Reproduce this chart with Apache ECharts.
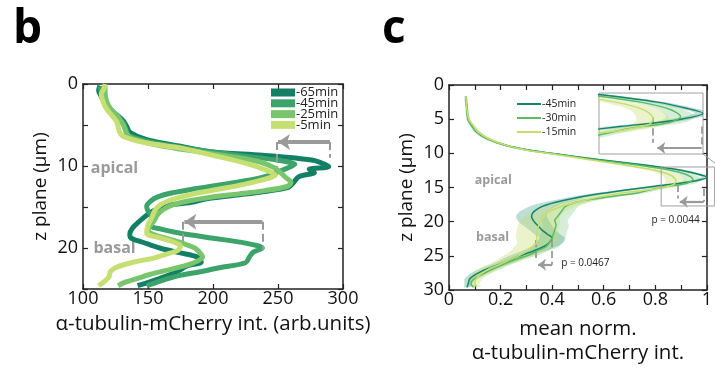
<!DOCTYPE html>
<html><head><meta charset="utf-8">
<script src="https://cdn.jsdelivr.net/npm/echarts@6/dist/echarts.min.js"></script>
<style>html,body{margin:0;padding:0;background:#fff}#c{width:715px;height:372px}</style>
</head><body><div id="c"></div>
<script>
// ---------- Panel b data (x = intensity, z = plane) ----------
const bNames = ['-65min','-45min','-25min','-5min'];
const bZ65 = [0.2,0.8,1.5,2.5,3.5,4.5,5.3,5.9,6.8,7.6,8.3,8.7,9.3,9.8,10.1,10.4,10.8,11.3,12.0,12.6,13.1,13.6,14.0,14.4,14.8,15.4,16.0,16.8,17.6,18.3,18.8,19.3,20.0,20.6,21.1,21.7,22.2,22.9,23.5,24.1,24.6];
const bV65 = [113,112,114,118,124,131,134,136,149,175,200,238,277,286,289,274,278,266,262,258,240,215,195,185,165,155,149,143,138,136,137,146,159,175,188,191,180,172,163,152,142];
const bZ45 = [0.3,1.0,2.0,3.0,4.0,4.8,5.5,6.2,7.0,7.6,8.2,8.8,9.3,9.8,10.2,10.7,11.2,11.8,12.3,12.8,13.3,13.8,14.3,14.9,15.5,16.2,16.8,17.3,17.7,18.2,18.8,19.4,20.0,20.5,21.1,21.8,22.4,22.9,23.4,24.0,24.6];
const bV45 = [113,114,117,120,126,131,133,134,150,170,195,225,250,263,258,250,242,225,205,185,168,157,152,149,150,153,152,152,160,175,200,225,238,231,228,225,205,190,173,160,149];
const bZ25 = [0.2,1.0,2.0,3.0,4.0,5.0,5.8,6.5,7.2,7.8,8.4,9.0,9.6,10.2,10.8,11.4,12.0,12.5,13.0,13.4,13.8,14.3,14.8,15.4,16.0,16.6,17.2,17.8,18.4,19.0,19.5,20.0,20.6,21.1,21.6,22.1,22.7,23.2,23.7,24.2,24.6];
const bV25 = [117,117,118,121,127,131,133,136,150,170,195,220,238,247,252,256,260,257,240,220,198,180,168,161,157,155,152,150,155,168,178,186,190,192,188,180,165,152,142,132,127];
const bZ5 = [0.0,0.6,1.2,2.0,3.0,4.0,4.6,5.2,5.8,6.4,7.2,7.8,8.7,9.7,10.5,11.1,11.7,12.3,12.8,13.3,13.8,14.3,14.8,15.5,16.3,17.2,18.2,18.8,19.3,19.7,20.3,20.8,21.2,21.8,22.4,22.9,23.5,24.0,24.6];
const bV5 = [117,116,114,115,118,123,126,127,128,131,149,175,200,226,241,248,238,222,205,188,175,165,159,155,153,150,149,160,170,175,173,163,155,137,125,121,120,117,112];
const bXTicks = [100,150,200,250,300];

// ---------- Panel c data (x = mean norm. intensity, z = plane) ----------
const cNames = ['-45min','-30min','-15min'];
const cZ45 = [1.7,3.7,5.1,6.0,6.8,7.8,8.8,9.5,10.2,10.9,11.7,12.4,13.0,13.5,14.2,14.8,15.4,16.0,16.6,17.2,17.8,18.5,19.2,20.0,20.6,21.2,21.8,22.4,23.0,23.6,24.4,25.2,25.9,26.6,27.2,27.8,28.4,29.0,29.6];
const cV45 = [0.065,0.07,0.075,0.09,0.106,0.145,0.22,0.31,0.44,0.58,0.76,0.89,0.96,1.0,0.93,0.80,0.68,0.57,0.48,0.41,0.36,0.33,0.32,0.33,0.345,0.36,0.38,0.40,0.39,0.37,0.32,0.26,0.22,0.17,0.13,0.10,0.08,0.075,0.07];
const cE45 = [0.004,0.005,0.006,0.008,0.01,0.012,0.015,0.018,0.02,0.02,0.02,0.02,0.02,0.02,0.025,0.03,0.03,0.035,0.04,0.045,0.05,0.055,0.06,0.06,0.055,0.05,0.05,0.05,0.055,0.05,0.045,0.04,0.035,0.03,0.028,0.025,0.02,0.015,0.01];
const cZ30 = [1.7,3.7,5.1,6.0,6.8,7.8,8.8,9.5,10.2,10.9,11.7,12.4,13.1,13.8,14.4,15.0,15.8,16.3,16.8,17.3,17.8,18.3,18.8,19.3,19.8,20.5,21.2,21.8,22.4,23.0,23.7,24.3,24.9,25.5,26.1,26.8,27.4,28.0,28.6,29.1,29.6];
const cV30 = [0.065,0.07,0.075,0.09,0.108,0.145,0.215,0.30,0.43,0.56,0.73,0.85,0.92,0.946,0.92,0.82,0.73,0.63,0.54,0.48,0.45,0.44,0.43,0.42,0.41,0.415,0.41,0.405,0.40,0.39,0.375,0.34,0.31,0.26,0.22,0.18,0.145,0.115,0.09,0.085,0.095];
const cE30 = [0.004,0.005,0.006,0.008,0.01,0.012,0.015,0.018,0.02,0.02,0.02,0.025,0.03,0.035,0.035,0.035,0.035,0.04,0.045,0.05,0.05,0.05,0.05,0.05,0.05,0.05,0.05,0.05,0.05,0.05,0.05,0.045,0.04,0.035,0.03,0.03,0.025,0.02,0.015,0.01,0.01];
const cZ15 = [1.7,3.7,5.1,6.0,6.8,7.8,8.8,9.5,10.2,10.9,11.7,12.4,13.2,14.0,14.6,15.2,15.8,16.4,17.1,17.7,18.3,18.8,19.3,19.8,20.2,21.0,21.7,22.4,23.1,23.8,24.4,25.0,25.6,26.2,26.8,27.5,28.3,28.9,29.5];
const cV15 = [0.065,0.07,0.078,0.095,0.11,0.15,0.22,0.30,0.42,0.54,0.68,0.79,0.86,0.88,0.87,0.80,0.67,0.58,0.50,0.44,0.40,0.375,0.36,0.355,0.35,0.345,0.34,0.34,0.34,0.32,0.30,0.27,0.235,0.20,0.16,0.13,0.107,0.10,0.107];
const cE15 = [0.004,0.005,0.006,0.008,0.01,0.012,0.015,0.018,0.02,0.02,0.025,0.03,0.035,0.04,0.04,0.04,0.04,0.045,0.05,0.055,0.06,0.065,0.07,0.075,0.08,0.08,0.08,0.08,0.075,0.07,0.065,0.06,0.05,0.045,0.04,0.035,0.025,0.02,0.015];
const cXTicks = [0,0.2,0.4,0.6,0.8,1];

// ---------- styles ----------
const FONT = '"Open Sans", "Noto Sans", sans-serif';
const bColors = ['#137f64','#3ca36b','#79c56e','#c6df72'];
const cColors = ['#148468','#5dbb62','#c6de6c'];
const cBand = ['rgba(20,132,104,0.28)','rgba(93,187,98,0.25)','rgba(198,222,108,0.35)'];
const GRAY = '#9a9a9a';

function zip(v, z) { return v.map((x, i) => [x, z[i]]); }

const chart = echarts.init(document.getElementById('c'), null, {renderer: 'canvas'});

function bandSeries(name, v, z, e, color, xi, yi) {
  return {
    type: 'custom', name: name, xAxisIndex: xi, yAxisIndex: yi, clip: true, silent: true,
    data: [[v[0], z[0]]], encode: {x: 0, y: 1},
    renderItem: function (params, api) {
      const pts = [];
      for (let i = 0; i < v.length; i++) pts.push(api.coord([v[i] - e[i], z[i]]));
      for (let i = v.length - 1; i >= 0; i--) pts.push(api.coord([v[i] + e[i], z[i]]));
      const cs = params.coordSys;
      return {
        type: 'polygon', shape: {points: pts, smooth: 0.3}, style: {fill: color, stroke: null},
        clipPath: {type: 'rect', shape: {x: cs.x, y: cs.y, width: cs.width, height: cs.height}}
      };
    }
  };
}

function axisCommon(extra) {
  return Object.assign({
    axisLine: {show: true, onZero: false, lineStyle: {color: '#222', width: 1.5}},
    axisTick: {show: true, inside: true, length: 5, lineStyle: {color: '#222', width: 1.2}},
    splitLine: {show: false},
    axisLabel: {show: false}
  }, extra);
}

const dashed = {type: 'dashed', color: GRAY, width: 2};
function mlSeg(a, b, style) { return [{coord: a, symbol: 'none', lineStyle: style}, {coord: b, symbol: 'none', lineStyle: style}]; }
function mlArrow(a, b, w, size) {
  const st = {type: 'solid', color: GRAY, width: w};
  return [{coord: a, symbol: 'none', lineStyle: st}, {coord: b, symbol: 'arrow', symbolSize: size, lineStyle: st}];
}

const bLines = [[bV65, bZ65], [bV45, bZ45], [bV25, bZ25], [bV5, bZ5]];
const cLines = [[cV45, cZ45, cE45], [cV30, cZ30, cE30], [cV15, cZ15, cE15]];

const series = [];
bLines.forEach((d, i) => {
  series.push({
    type: 'line', name: bNames[i], xAxisIndex: 0, yAxisIndex: 0, data: zip(d[0], d[1]),
    smooth: 0.3, showSymbol: false, symbol: 'none', lineStyle: {width: 5, color: bColors[i]},
    itemStyle: {color: bColors[i]}, z: 3 + i
  });
});
// panel b annotations
series[0].markLine = {
  silent: true, animation: false, label: {show: false}, symbol: ['none', 'none'],
  data: [
    mlSeg([249, 7.07], [249, 10.7], dashed),
    mlSeg([290, 7.07], [290, 9.0], dashed),
    mlArrow([290, 7.07], [250, 7.07], 4, [12, 12]),
    mlSeg([177, 16.8], [177, 19.4], dashed),
    mlSeg([238, 16.8], [238, 20.2], dashed),
    mlArrow([238, 16.8], [178, 16.8], 4, [12, 12])
  ]
};

cLines.forEach((d, i) => series.push(bandSeries('cb' + i, d[0], d[1], d[2], cBand[i], 2, 2)));
cLines.forEach((d, i) => {
  series.push({
    type: 'line', name: 'c' + cNames[i], xAxisIndex: 2, yAxisIndex: 2, data: zip(d[0], d[1]),
    smooth: 0.3, showSymbol: false, symbol: 'none', lineStyle: {width: 1.5, color: cColors[i]},
    itemStyle: {color: cColors[i]}, z: 5
  });
});
const cMain = series[series.length - 3];
const thinDash = {type: 'dashed', color: GRAY, width: 1.8};
cMain.markLine = {
  silent: true, animation: false, label: {show: false}, symbol: ['none', 'none'],
  data: [
    mlSeg([0.886, 14.6], [0.886, 16.6], thinDash),
    mlSeg([0.988, 15.2], [0.988, 17.1], thinDash),
    mlArrow([0.988, 17.1], [0.895, 17.1], 2.2, [9, 8]),
    mlSeg([0.338, 22.7], [0.338, 25.9], thinDash),
    mlSeg([0.40, 22.7], [0.40, 26.3], thinDash),
    mlArrow([0.40, 26.3], [0.345, 26.3], 2.2, [9, 8])
  ]
};
// inset
cLines.forEach((d, i) => series.push(bandSeries('ib' + i, d[0], d[1], d[2], cBand[i], 4, 4)));
cLines.forEach((d, i) => {
  series.push({
    type: 'line', name: 'i' + cNames[i], xAxisIndex: 4, yAxisIndex: 4, data: zip(d[0], d[1]),
    smooth: 0.3, showSymbol: false, symbol: 'none', lineStyle: {width: 1.4, color: cColors[i]},
    itemStyle: {color: cColors[i]}, z: 5, clip: true
  });
});
series[series.length - 1].markLine = {
  silent: true, animation: false, label: {show: false}, symbol: ['none', 'none'],
  data: [
    mlSeg([0.88, 13.9], [0.88, 16.4], thinDash),
    mlSeg([0.997, 14.8], [0.997, 16.9], thinDash),
    mlArrow([0.997, 16.9], [0.89, 16.9], 2.2, [9, 8])
  ]
};

const option = {
  animation: false,
  backgroundColor: '#fff',
  textStyle: {fontFamily: FONT},
  grid: [
    {left: 83, top: 84, width: 260, height: 205},
    {left: 449, top: 85, width: 260, height: 205},
    {left: 599, top: 93, width: 104, height: 61, show: true, borderColor: '#a0a0a0', borderWidth: 1, backgroundColor: '#fff', z: 1}
  ],
  legend: [
    {
      left: 271, top: 86, padding: 0, orient: 'vertical', itemGap: -2.2, itemWidth: 24, itemHeight: 8, icon: 'rect',
      data: bNames, selectedMode: false,
      textStyle: {fontFamily: FONT, fontSize: 13, color: '#222', padding: [0, 0, 0, -4]}
    },
    {
      left: 517, top: 97, padding: 0, orient: 'vertical', itemGap: 0, itemWidth: 24, itemHeight: 2, icon: 'rect',
      data: cNames.map(n => 'c' + n), selectedMode: false,
      formatter: n => n.slice(1),
      textStyle: {fontFamily: FONT, fontSize: 10.5, color: '#222', lineHeight: 14, padding: [0, 0, 0, -4]}
    }
  ],
  xAxis: [
    axisCommon({gridIndex: 0, type: 'value', position: 'bottom', min: bXTicks[0], max: bXTicks[bXTicks.length - 1], interval: 50,
      axisLabel: {show: true, fontFamily: FONT, fontSize: 18, color: '#111', margin: 1},
      name: 'α-tubulin-mCherry int. (arb.units)', nameLocation: 'middle', nameGap: 25,
      nameTextStyle: {fontFamily: FONT, fontSize: 20.5, color: '#111'}}),
    axisCommon({gridIndex: 0, type: 'value', position: 'top', min: 100, max: 300, interval: 50}),
    axisCommon({gridIndex: 1, type: 'value', position: 'bottom', min: 0, max: 1, interval: 0.2,
      minorTick: {show: true, splitNumber: 2, length: 5, lineStyle: {color: '#222', width: 1.2}},
      axisLabel: {show: true, fontFamily: FONT, fontSize: 18, color: '#111', margin: 1,
        formatter: v => String(Math.round(v * 10) / 10)},
      name: 'mean norm.\nα-tubulin-mCherry int.', nameLocation: 'middle', nameGap: 27,
      nameTextStyle: {fontFamily: FONT, fontSize: 20.5, color: '#111', lineHeight: 24, verticalAlign: 'top'}}),
    axisCommon({gridIndex: 1, type: 'value', position: 'top', min: 0, max: 1, interval: 0.2,
      minorTick: {show: true, splitNumber: 2, length: 5, lineStyle: {color: '#222', width: 1.2}}}),
    {gridIndex: 2, type: 'value', min: 0.75, max: 1.0, show: false}
  ],
  yAxis: [
    axisCommon({gridIndex: 0, type: 'value', position: 'left', min: 0, max: 25, interval: 5, inverse: true,
      axisLabel: {show: true, fontFamily: FONT, fontSize: 18, color: '#111', margin: 5,
        formatter: v => (v % 10 === 0 ? String(v) : '')},
      name: 'z plane (μm)', nameLocation: 'middle', nameGap: 33, nameRotate: 90,
      nameTextStyle: {fontFamily: FONT, fontSize: 19, color: '#111'}}),
    axisCommon({gridIndex: 0, type: 'value', position: 'right', min: 0, max: 25, interval: 5, inverse: true}),
    axisCommon({gridIndex: 1, type: 'value', position: 'left', min: 0, max: 30, interval: 5, inverse: true,
      axisLabel: {show: true, fontFamily: FONT, fontSize: 18, color: '#111', margin: 5},
      name: 'z plane (μm)', nameLocation: 'middle', nameGap: 33, nameRotate: 90,
      nameTextStyle: {fontFamily: FONT, fontSize: 19, color: '#111'}}),
    axisCommon({gridIndex: 1, type: 'value', position: 'right', min: 0, max: 30, interval: 5, inverse: true}),
    {gridIndex: 2, type: 'value', min: 11.5, max: 17.5, inverse: true, show: false}
  ],
  series: series
};
chart.setOption(option);

// decorations positioned through the chart's own coordinate conversion
const P = (g, v, z) => chart.convertToPixel({gridIndex: g}, [v, z]);
const boxA = P(1, 0.823, 12.0), boxB = P(1, 1.03, 17.7);
const gfx = [
  {type: 'text', left: 13, top: 7, style: {text: 'b', font: 'bold 46px ' + FONT, fill: '#000'}},
  {type: 'text', left: 382, top: 7, style: {text: 'c', font: 'bold 46px ' + FONT, fill: '#000'}},
  {type: 'text', x: P(0, 106, 10)[0], y: P(0, 106, 10.3)[1], style: {text: 'apical', font: 'bold 16px ' + FONT, fill: GRAY, verticalAlign: 'middle'}},
  {type: 'text', x: P(0, 108, 20)[0], y: P(0, 108, 20)[1], style: {text: 'basal', font: 'bold 16px ' + FONT, fill: GRAY, verticalAlign: 'middle'}},
  {type: 'text', x: P(1, 0.10, 13.9)[0], y: P(1, 0.10, 13.9)[1], style: {text: 'apical', font: 'bold 12.5px ' + FONT, fill: GRAY, verticalAlign: 'middle'}},
  {type: 'text', x: P(1, 0.105, 22.3)[0], y: P(1, 0.105, 22.3)[1], style: {text: 'basal', font: 'bold 12.5px ' + FONT, fill: GRAY, verticalAlign: 'middle'}},
  {type: 'text', x: P(1, 0.785, 19.8)[0], y: P(1, 0.785, 19.8)[1], style: {text: 'p = 0.0044', font: '10px ' + FONT, fill: '#222', verticalAlign: 'middle'}},
  {type: 'text', x: P(1, 0.435, 26.1)[0], y: P(1, 0.435, 26.1)[1], style: {text: 'p = 0.0467', font: '10px ' + FONT, fill: '#222', verticalAlign: 'middle'}},
  {type: 'rect', shape: {x: boxA[0], y: boxA[1], width: boxB[0] - boxA[0], height: boxB[1] - boxA[1]},
    style: {fill: null, stroke: '#a0a0a0', lineWidth: 1}, z: 10},
  {type: 'line', shape: {x1: 703, y1: 154, x2: 716, y2: 164}, style: {stroke: '#a0a0a0', lineWidth: 1}, z: 10}
];
chart.setOption({graphic: gfx});
</script>
</body></html>
